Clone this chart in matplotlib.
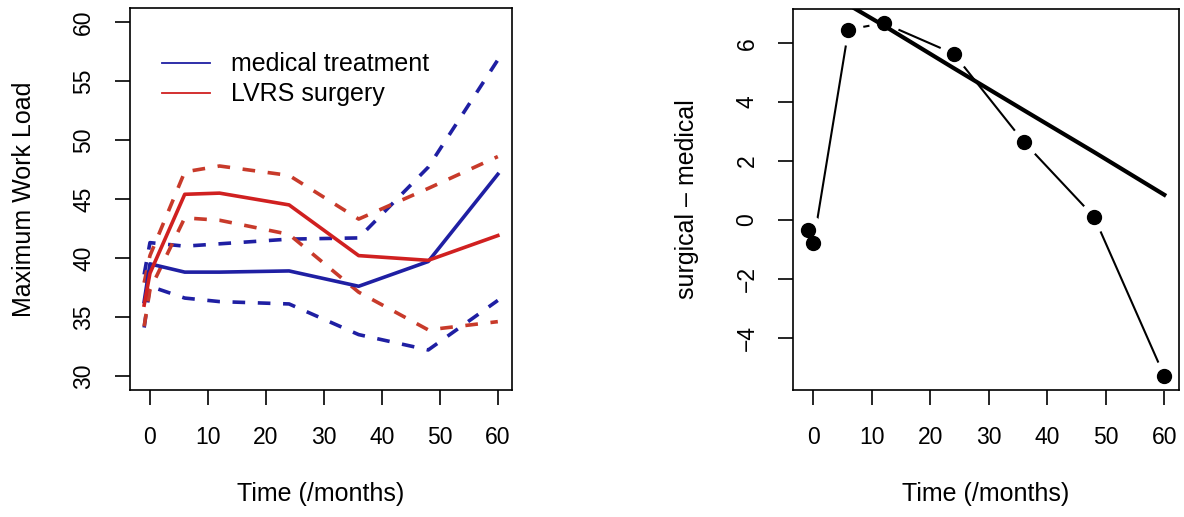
import matplotlib
matplotlib.use("Agg")
import matplotlib.pyplot as plt

plt.rcParams['font.family'] = ['Liberation Sans', 'DejaVu Sans']

# follow-up times (months)
times = [-1, 0, 6, 12, 24, 36, 48, 60]

# left panel: mean curves with dashed bands
med_mean = [36.3, 39.5, 38.8, 38.8, 38.9, 37.6, 39.7, 47.1]
med_upper = [38.6, 41.3, 41.0, 41.2, 41.6, 41.7, 47.7, 56.8]
med_lower = [34.1, 37.6, 36.6, 36.3, 36.1, 33.5, 32.2, 36.4]
surg_mean = [36.0, 38.7, 45.4, 45.5, 44.5, 40.2, 39.8, 41.9]
surg_upper = [37.9, 40.2, 47.3, 47.8, 47.0, 43.3, 45.9, 48.6]
surg_lower = [34.2, 37.3, 43.4, 43.2, 42.0, 37.1, 33.9, 34.6]

# right panel: difference and fitted trend
diff = [-0.33, -0.8, 6.46, 6.68, 5.64, 2.64, 0.1, -5.3]
fit_y = [8.1, 8.0, 7.3, 6.6, 5.15, 3.72, 2.3, 0.85]

xticks = [0, 10, 20, 30, 40, 50, 60]
yticks_left = [30, 35, 40, 45, 50, 55, 60]
yticks_right = [-4, -2, 0, 2, 4, 6]

blue = '#1f1fa3'
red = '#d02020'
red_dash = '#c83a2a'


def r_lim(lo, hi):
    pad = 0.04 * (hi - lo)
    return lo - pad, hi + pad


def style(ax, yticks, ylabel):
    ax.set_xlim(*r_lim(min(times), max(times)))
    ax.set_xticks(xticks)
    ax.set_yticks(yticks)
    ax.tick_params(direction='out', length=11, width=1.2, labelsize=16.5,
                   pad=14)
    ax.tick_params(axis='x', pad=15)
    for lab in ax.get_yticklabels():
        lab.set_rotation(90)
        lab.set_va('center')
    for sp in ax.spines.values():
        sp.set_linewidth(1.2)
    ax.set_xlabel('Time (/months)', fontsize=18, labelpad=24)
    ax.set_ylabel(ylabel, fontsize=18, labelpad=26)


fig = plt.figure(figsize=(11.84, 5.17), dpi=100)
ax1 = fig.add_axes([0.1098, 0.2456, 0.3226, 0.7389])
ax2 = fig.add_axes([0.670, 0.2456, 0.3254, 0.7370])

# left panel
dash = (3.5, 3.5)
ax1.plot(times, med_upper, color=blue, lw=2.6, dashes=dash)
ax1.plot(times, med_lower, color=blue, lw=2.6, dashes=dash)
ax1.plot(times, surg_upper, color=red_dash, lw=2.6, dashes=dash)
ax1.plot(times, surg_lower, color=red_dash, lw=2.6, dashes=dash)
ax1.plot(times, med_mean, color=blue, lw=2.6)
ax1.plot(times, surg_mean, color=red, lw=2.6)
ax1.set_ylim(*r_lim(30, 60))
h1, = ax1.plot([], [], color=blue, lw=1.3)
h2, = ax1.plot([], [], color=red, lw=1.3)
ax1.legend([h1, h2], ['medical treatment', 'LVRS surgery'], loc='upper left',
           bbox_to_anchor=(0.025, 0.943), frameon=False, fontsize=18,
           handlelength=1.9, handletextpad=0.85, labelspacing=0.24)
style(ax1, yticks_left, 'Maximum Work Load')

# right panel (points joined with gaps, as in R type="b")
ax2.plot(times, diff, color='black', lw=1.5, zorder=1)
ax2.plot(times, diff, 'o', ms=22, mfc='white', mec='none', zorder=2)
ax2.plot(times, fit_y, color='black', lw=3, zorder=3)
ax2.plot(times, diff, 'o', ms=10, color='black', zorder=4)
ax2.set_ylim(*r_lim(min(diff), max(diff)))
style(ax2, yticks_right, 'surgical \u2013 medical')

fig.savefig('out.png', dpi=100)
